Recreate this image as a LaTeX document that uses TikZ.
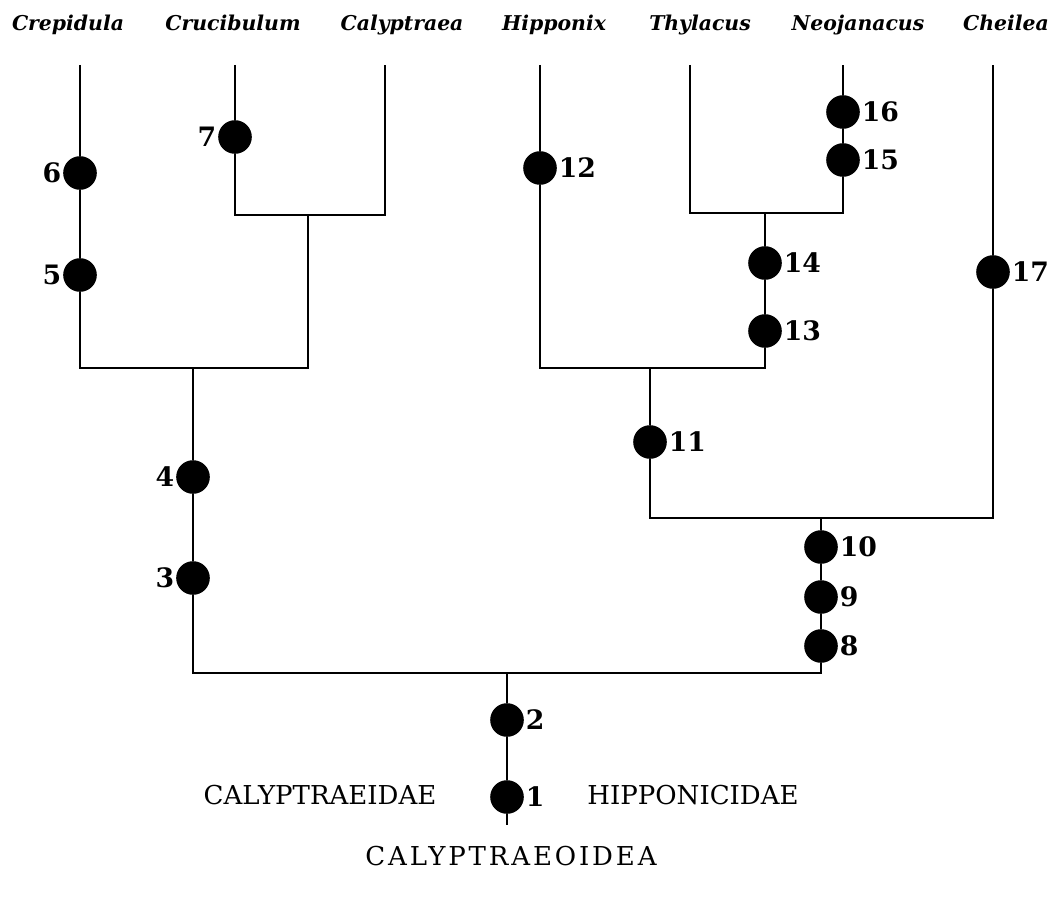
\documentclass[tikz,border=0pt]{standalone}
\usepackage{fontspec}
\setmainfont{DejaVu Serif}
\usepackage{tikz}
\usetikzlibrary{positioning}

\begin{document}
\begin{tikzpicture}[x=0.025cm, y=-0.025cm,
      taxon/.style={font=\fontsize{14.5}{14.5}\selectfont\bfseries\itshape,
                    anchor=base, inner sep=0pt},
      apo/.style={circle, fill=black, inner sep=0pt, minimum size=0.84cm},
      num/.style={font=\fontsize{19}{19}\selectfont\bfseries, inner sep=1pt},
      fam/.style={font=\fontsize{18.5}{18.5}\selectfont, anchor=base, inner sep=0pt},
      branch/.style={line width=1.9pt}]
    \useasboundingbox (0,0) rectangle (1056,899);
    \foreach \t/\x/\lx in {Crepidula/80/68, Crucibulum/235/233, Calyptraea/385/402,
                           Hipponix/540/554, Thylacus/690/700, Neojanacus/843/858,
                           Cheilea/993/1006} {
      \node[taxon] (\t) at (\lx,31) {\t};
      \coordinate (tip\t) at (\x,65);
    }
    \foreach \n/\x/\y/\side in {1/507/797/right, 2/507/720/right, 3/193/578/left,
                                4/193/477/left, 5/80/275/left, 6/80/173/left,
                                7/235/137/left, 8/821/646/right, 9/821/597/right,
                                10/821/547/right, 11/650/442/right, 12/540/168/right,
                                13/765/331/right, 14/765/263/right, 15/843/160/right,
                                16/843/112/right, 17/993/272/right} {
      \node[apo, label={[num]\side:\n}] (d\n) at (\x,\y) {};
    }
    \coordinate (jA) at (193,368);
    \coordinate (jB) at (308,215);
    \coordinate (jC) at (765,213);
    \coordinate (jE) at (650,368);
    \coordinate (jF) at (821,518);
    \coordinate (jG) at (507,673);
    \coordinate (rootEnd) at (507,825);
    \draw[branch] (tipCrepidula) -- (d6) -- (d5) |- (jA) -| (jB);
    \draw[branch] (tipCrucibulum) -- (d7) |- (jB) -| (tipCalyptraea);
    \draw[branch] (jA) -- (d4) -- (d3) |- (jG) -| (d8);
    \draw[branch] (d8) -- (d9) -- (d10) -- (jF);
    \draw[branch] (d11) |- (jF) -| (d17) -- (tipCheilea);
    \draw[branch] (jE) -- (d11);
    \draw[branch] (tipHipponix) -- (d12) |- (jE) -| (d13) -- (d14) -- (jC);
    \draw[branch] (tipThylacus) |- (jC) -| (d15) -- (d16) -- (tipNeojanacus);
    \draw[branch] (jG) -- (d2) -- (d1) -- (rootEnd);
    \node[fam] (calyptraeidae) at (320,804) {CALYPTRAEIDAE};
    \node[fam] (hipponicidae) at (693,804) {HIPPONICIDAE};
    \node[fam] (calyptraeoidea) at (511,865)
          {\addfontfeature{LetterSpace=11}CALYPTRAEOIDEA};
  \end{tikzpicture}
\end{document}
